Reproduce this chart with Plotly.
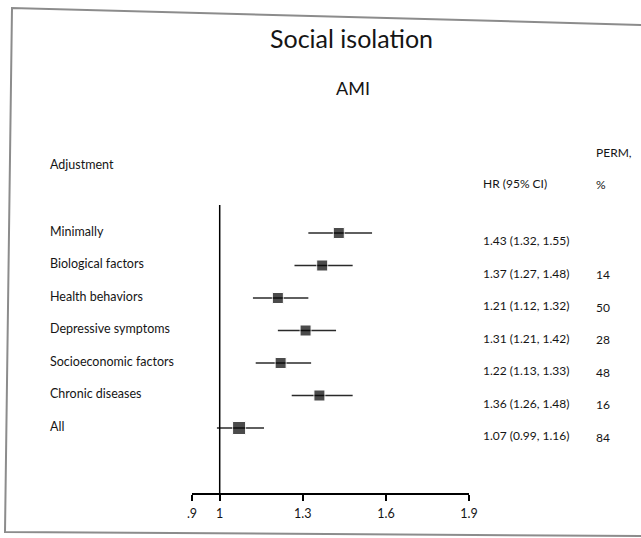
import plotly.graph_objects as go

W, H = 641, 538

labels = ["Minimally", "Biological factors", "Health behaviors", "Depressive symptoms",
          "Socioeconomic factors", "Chronic diseases", "All"]
hr = [1.43, 1.37, 1.21, 1.31, 1.22, 1.36, 1.07]
lo = [1.32, 1.27, 1.12, 1.21, 1.13, 1.26, 0.99]
hi = [1.55, 1.48, 1.32, 1.42, 1.33, 1.48, 1.16]
perm = ["", "14", "50", "28", "48", "16", "84"]
hr_text = ["1.43 (1.32, 1.55)", "1.37 (1.27, 1.48)", "1.21 (1.12, 1.32)", "1.31 (1.21, 1.42)",
           "1.22 (1.13, 1.33)", "1.36 (1.26, 1.48)", "1.07 (0.99, 1.16)"]
tick_vals = [0.9, 1.0, 1.3, 1.6, 1.9]
tick_text = [".9", "1", "1.3", "1.6", "1.9"]
marker_sizes = [11, 11, 11, 11, 11, 11, 13]

rows = list(range(len(labels)))

def px(x):
    return x / W

def py(y):
    return 1 - y / H

FONT = "Lato"
TXT = "#151515"
fig = go.Figure()

for i in rows:
    fig.add_trace(go.Scatter(x=[lo[i], hi[i]], y=[i, i], mode="lines",
                             line=dict(color="#2a2a2a", width=1.6),
                             hoverinfo="skip", showlegend=False))

fig.add_trace(go.Scatter(x=hr, y=rows, mode="markers",
                         marker=dict(symbol="square", size=marker_sizes, color="black"),
                         showlegend=False))

def txt(text, x, y, size, anchor="left"):
    return dict(text=text, x=px(x), y=py(y), xref="paper", yref="paper",
                xanchor=anchor, yanchor="middle", showarrow=False,
                font=dict(family=FONT, size=size, color=TXT))

ann = [
    txt("Social isolation", 351, 38, 25, "center"),
    txt("AMI", 353, 88, 18, "center"),
    txt("Adjustment", 48, 164, 12.5),
    txt("HR (95% CI)", 481, 183, 12),
    txt("PERM,", 594, 152, 12),
    txt("%", 594, 185, 12),
]

for i in rows:
    ann.append(dict(text=labels[i], x=px(48), y=i, xref="paper", yref="y", yshift=2,
                    xanchor="left", yanchor="middle", showarrow=False,
                    font=dict(family=FONT, size=12.5, color=TXT)))
    ann.append(dict(text=hr_text[i], x=px(481), y=i, xref="paper", yref="y", yshift=-7.5,
                    xanchor="left", yanchor="middle", showarrow=False,
                    font=dict(family=FONT, size=12, color=TXT)))
    if perm[i]:
        ann.append(dict(text=perm[i], x=px(594), y=i, xref="paper", yref="y", yshift=-9,
                        xanchor="left", yanchor="middle", showarrow=False,
                        font=dict(family=FONT, size=12, color=TXT)))

shapes = [
    dict(type="line", xref="x", yref="y domain", x0=1, x1=1, y0=0, y1=1,
         line=dict(color="black", width=1.5)),
    dict(type="path", xref="paper", yref="paper",
         path=f"M {px(645)},{py(25)} L {px(12)},{py(8)} L {px(5)},{py(532)} L {px(645)},{py(536)}",
         line=dict(color="#8c8c8c", width=2)),
]

fig.update_layout(
    width=W, height=H,
    margin=dict(l=0, r=0, t=0, b=0),
    paper_bgcolor="white", plot_bgcolor="white",
    xaxis=dict(domain=[px(192), px(469)], range=[0.9, 1.9],
               tickvals=tick_vals, ticktext=tick_text,
               showline=True, linecolor="black", linewidth=1.5,
               ticks="outside", ticklen=6, tickwidth=1.5, tickcolor="black",
               showgrid=False, zeroline=False, ticklabelstandoff=2, automargin=False,
               tickfont=dict(family=FONT, size=12.5, color=TXT)),
    yaxis=dict(domain=[py(493), py(205)], range=[8.0, -0.862], automargin=False,
               showgrid=False, zeroline=False, showticklabels=False, showline=False),
    annotations=ann, shapes=shapes,
    hovermode=False,
)

fig.write_html("out.html")
